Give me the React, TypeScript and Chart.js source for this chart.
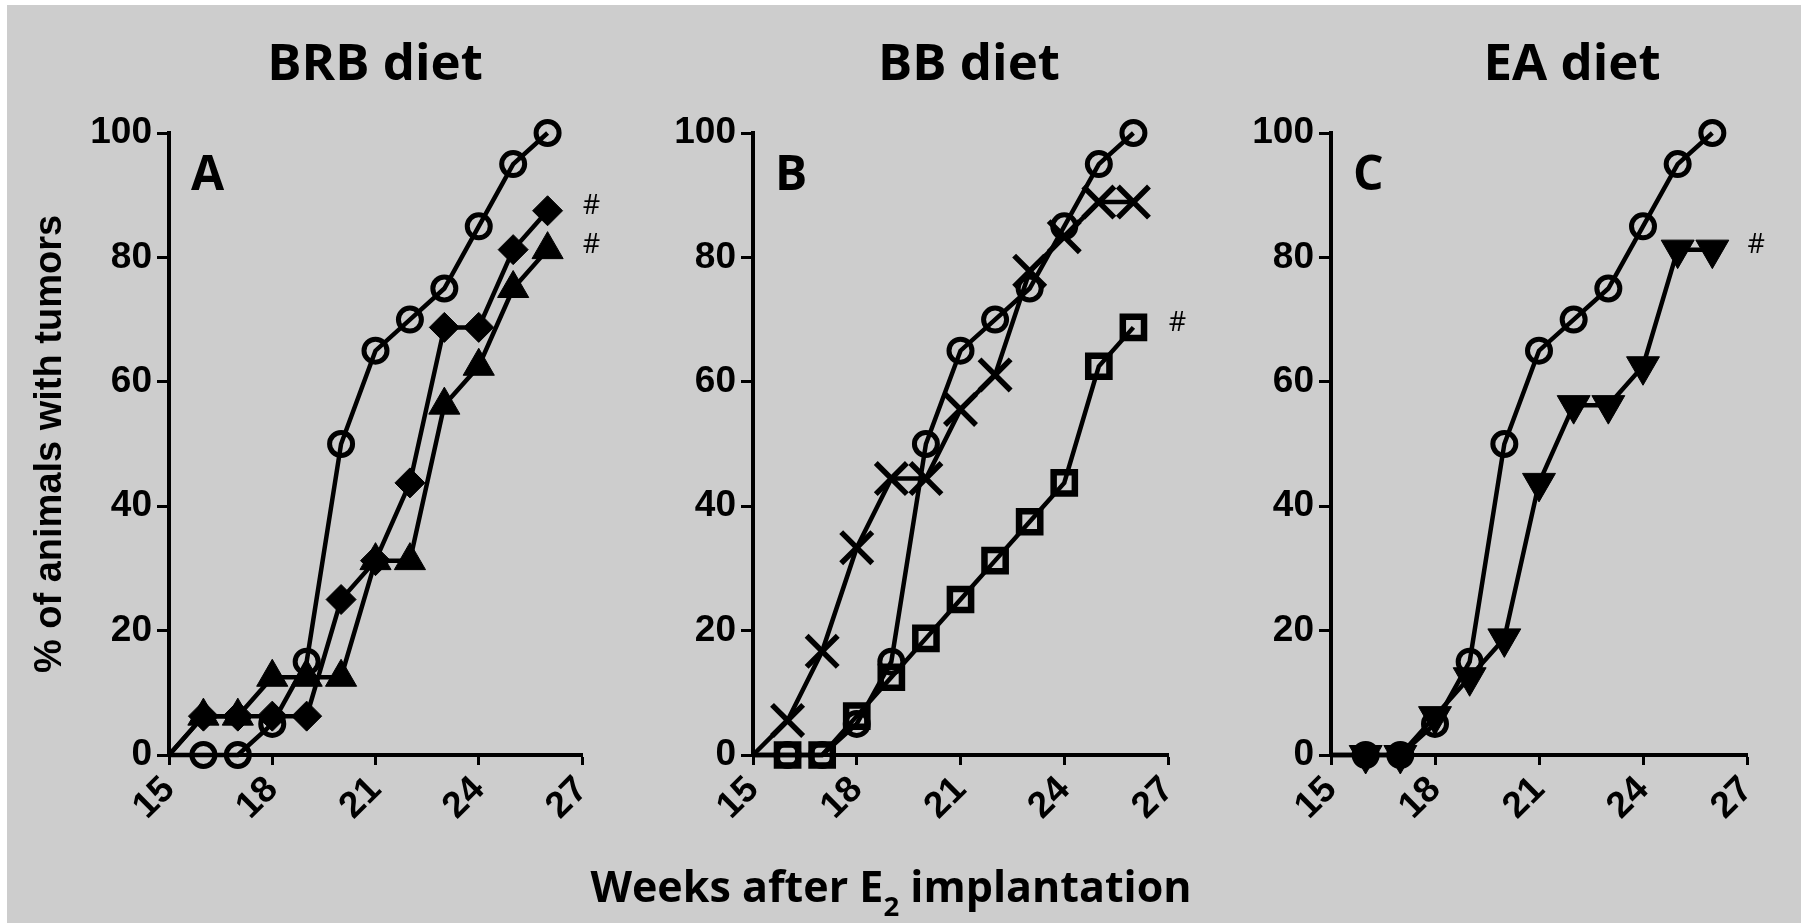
import React, { useEffect, useRef } from 'react';
import { Chart, registerables } from 'chart.js';

Chart.register(...registerables);

// ---------------- data ----------------
const weeks = [15, 16, 17, 18, 19, 20, 21, 22, 23, 24, 25, 26];
const controlPct = [0, 0, 0, 5, 15, 50, 65, 70, 75, 85, 95, 100];
const brbDiamondPct = [0, 6.25, 6.25, 6.25, 6.25, 25, 31.25, 43.75, 68.75, 68.75, 81.25, 87.5];
const brbTrianglePct = [0, 6.25, 6.25, 12.5, 12.5, 12.5, 31.25, 31.25, 56.25, 62.5, 75, 81.25];
const bbCrossPct = [0, 5.56, 16.67, 33.33, 44.44, 44.44, 55.56, 61.11, 77.78, 83.33, 88.89, 88.89];
const bbSquarePct = [0, 0, 0, 6.25, 12.5, 18.75, 25, 31.25, 37.5, 43.75, 62.5, 68.75];
const eaTrianglePct = [0, 0, 0, 6.25, 12.5, 18.75, 43.75, 56.25, 56.25, 62.5, 81.25, 81.25];

const xTicks = [15, 18, 21, 24, 27];
const yTicks = [0, 20, 40, 60, 80, 100];
const panelTitles = ['BRB diet', 'BB diet', 'EA diet'];
const panelLetters = ['A', 'B', 'C'];
const yAxisTitle = '% of animals with tumors';
const xAxisMain = 'Weeks after E';
const xAxisSub = '2';
const xAxisRest = ' implantation';

// ---------------- styles / layout ----------------
const H = 923;
const PLOT_TOP = 133;
const PLOT_BOTTOM = 755;
const TICK_FONT = { family: "'Liberation Sans', Arial, sans-serif", weight: 'bold' as const, size: 37 };

type MarkerStyle = {
  pointStyle: string;
  r: number;
  pointBorderWidth: number;
  pointBackgroundColor: string;
  pointRotation?: number;
};

const openCircle: MarkerStyle = { pointStyle: 'circle', r: 11.5, pointBorderWidth: 5, pointBackgroundColor: 'rgba(0,0,0,0)' };
const diamond: MarkerStyle = { pointStyle: 'rectRot', r: 15, pointBorderWidth: 1, pointBackgroundColor: '#000' };
const triangle: MarkerStyle = { pointStyle: 'triangle', r: 18, pointBorderWidth: 1, pointBackgroundColor: '#000' };
const crossX: MarkerStyle = { pointStyle: 'crossRot', r: 22, pointBorderWidth: 5.5, pointBackgroundColor: '#000' };
const openSquare: MarkerStyle = { pointStyle: 'rect', r: 15, pointBorderWidth: 6.5, pointBackgroundColor: 'rgba(0,0,0,0)' };
const invTriangle: MarkerStyle = { pointStyle: 'triangle', r: 19, pointBorderWidth: 1, pointBackgroundColor: '#000', pointRotation: 180 };

function makeSeries(label: string, values: number[], m: MarkerStyle, hashMark: boolean, order: number) {
  return {
    label,
    data: weeks.map((w, i) => ({ x: w, y: values[i] })),
    borderColor: '#000',
    borderWidth: 4.5,
    tension: 0,
    fill: false,
    pointStyle: m.pointStyle,
    pointRotation: m.pointRotation || 0,
    pointBorderColor: '#000',
    pointBorderWidth: m.pointBorderWidth,
    pointBackgroundColor: m.pointBackgroundColor,
    pointRadius: (ctx: any) => (ctx.dataIndex === 0 ? 0 : m.r),
    pointHoverRadius: (ctx: any) => (ctx.dataIndex === 0 ? 0 : m.r),
    clip: false as any,
    hashMark,
    order,
  };
}

const panelSeries = [
  () => [
    makeSeries('Control', controlPct, openCircle, false, 0),
    makeSeries('BRB (diamond)', brbDiamondPct, diamond, true, 2),
    makeSeries('BRB (triangle)', brbTrianglePct, triangle, true, 1),
  ],
  () => [
    makeSeries('Control', controlPct, openCircle, false, 0),
    makeSeries('BB (cross)', bbCrossPct, crossX, false, 1),
    makeSeries('BB (square)', bbSquarePct, openSquare, true, 2),
  ],
  () => [
    makeSeries('Control', controlPct, openCircle, false, 0),
    makeSeries('EA (inverted triangle)', eaTrianglePct, invTriangle, true, 1),
  ],
];

// page-coordinate layout of each panel
const PANELS = [
  { canvasLeft: 0, canvasWidth: 640, axisX: 169, plotRight: 582, titleX: 375 },
  { canvasLeft: 584, canvasWidth: 640, axisX: 753, plotRight: 1168, titleX: 969 },
  { canvasLeft: 1162, canvasWidth: 639, axisX: 1331, plotRight: 1747, titleX: 1572 },
];

const panelTextPlugin = {
  id: 'panelText',
  afterDatasetsDraw(chart: any, _args: any, opts: any) {
    const { ctx, chartArea } = chart;
    ctx.save();
    ctx.fillStyle = '#000';
    ctx.font = "bold 51px 'Open Sans', sans-serif";
    ctx.textAlign = 'center';
    ctx.textBaseline = 'alphabetic';
    ctx.fillText(opts.title, opts.titleX, 80);
    ctx.font = "bold 48px 'Open Sans', sans-serif";
    ctx.textAlign = 'left';
    ctx.fillText(opts.letter, chartArea.left + 22, 190);
    ctx.font = "27px 'Open Sans', sans-serif";
    ctx.textAlign = 'center';
    ctx.textBaseline = 'middle';
    chart.data.datasets.forEach((ds: any, i: number) => {
      if (!ds.hashMark) return;
      const meta = chart.getDatasetMeta(i);
      const el = meta.data[meta.data.length - 1];
      ctx.fillText('#', el.x + 44, el.y - 4);
    });
    ctx.restore();
  },
};

function Panel({ idx }: { idx: number }) {
  const ref = useRef<HTMLCanvasElement | null>(null);
  const p = PANELS[idx];
  useEffect(() => {
    if (!ref.current) return;
    const axisW = p.axisX - p.canvasLeft;
    const plotRightLocal = p.plotRight - p.canvasLeft;
    const chart = new Chart(ref.current, {
      type: 'line',
      data: { datasets: panelSeries[idx]() as any },
      options: {
        responsive: false,
        animation: false,
        devicePixelRatio: 1,
        events: [],
        layout: { padding: { top: PLOT_TOP, left: 0, bottom: 0, right: p.canvasWidth - plotRightLocal } },
        plugins: {
          legend: { display: false },
          tooltip: { enabled: false },
          // @ts-ignore
          panelText: { title: panelTitles[idx], letter: panelLetters[idx], titleX: p.titleX - p.canvasLeft },
        },
        scales: {
          x: {
            type: 'linear',
            position: 'bottom',
            min: xTicks[0],
            max: xTicks[xTicks.length - 1],
            afterBuildTicks: (s: any) => { s.ticks = xTicks.map((v) => ({ value: v })); },
            afterFit: (s: any) => { s.height = H - PLOT_BOTTOM; },
            ticks: { autoSkip: false, minRotation: 45, maxRotation: 45, padding: 3, color: '#000', font: TICK_FONT },
            grid: { display: true, drawOnChartArea: false, drawTicks: true, tickLength: 10, tickWidth: 3, tickColor: '#000', color: '#000' },
            border: { display: true, color: '#000', width: 4 },
          },
          y: {
            type: 'linear',
            position: 'left',
            min: yTicks[0],
            max: yTicks[yTicks.length - 1],
            afterBuildTicks: (s: any) => { s.ticks = yTicks.map((v) => ({ value: v })); },
            afterFit: (s: any) => { s.width = axisW; },
            ticks: { padding: 5, color: '#000', font: TICK_FONT },
            grid: { display: true, drawOnChartArea: false, drawTicks: true, tickLength: 12, tickWidth: 3, tickColor: '#000', color: '#000' },
            border: { display: true, color: '#000', width: 4 },
            title: {
              display: idx === 0,
              text: yAxisTitle,
              color: '#000',
              font: { family: "'Liberation Sans', Arial, sans-serif", weight: 'bold', size: 38 },
              padding: { top: 28, bottom: 0 },
            },
          },
        },
      },
      plugins: [panelTextPlugin as any],
    });
    return () => chart.destroy();
  }, []);
  return (
    <canvas
      ref={ref}
      width={p.canvasWidth}
      height={H}
      style={{ position: 'absolute', left: p.canvasLeft, top: 0, width: p.canvasWidth, height: H }}
    />
  );
}

export default function App() {
  return (
    <div style={{ position: 'absolute', left: 0, top: 0, width: 1801, height: H, background: '#fff', overflow: 'hidden' }}>
      <div style={{ position: 'absolute', left: 7, top: 5, right: 0, bottom: 0, background: '#cdcdcd' }} />
      <Panel idx={0} />
      <Panel idx={1} />
      <Panel idx={2} />
      <div
        style={{
          position: 'absolute',
          left: 891,
          top: 856,
          transform: 'translateX(-50%)',
          whiteSpace: 'nowrap',
          fontFamily: "'Open Sans', sans-serif",
          fontWeight: 'bold',
          fontSize: 43,
          lineHeight: '60px',
          color: '#000',
        }}
      >
        {xAxisMain}
        <span style={{ fontSize: '0.64em', position: 'relative', top: 14, lineHeight: 0 }}>{xAxisSub}</span>
        {xAxisRest}
      </div>
    </div>
  );
}
